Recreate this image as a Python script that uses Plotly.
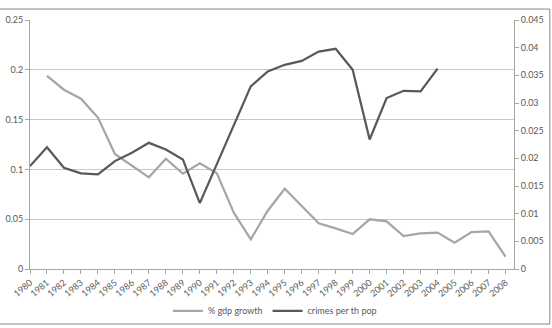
import plotly.graph_objects as go

years = list(range(1980, 2009))
gdp_years = list(range(1981, 2009))
gdp_growth = [0.194, 0.180, 0.171, 0.152, 0.1155, 0.1034, 0.092, 0.1107, 0.0957,
              0.1061, 0.0962, 0.0565, 0.0298, 0.0585, 0.0806, 0.0633, 0.0459,
              0.0408, 0.0351, 0.0499, 0.0479, 0.0331, 0.0358, 0.0365, 0.0264,
              0.0371, 0.0378, 0.0124]
crime_years = list(range(1980, 2005))
crimes = [0.0186, 0.0220, 0.0183, 0.0173, 0.0171, 0.0195, 0.0210, 0.0228, 0.0216,
          0.0198, 0.0119, 0.0190, 0.0261, 0.0330, 0.0357, 0.0369, 0.0376, 0.0393,
          0.0398, 0.0360, 0.0234, 0.0309, 0.0322, 0.0321, 0.0362]
tick_labels = [str(y) for y in years]

TXT = "#595959"
AX = "#A6A6A6"

fig = go.Figure()
fig.add_trace(go.Scatter(x=gdp_years, y=gdp_growth, mode="lines", name="% gdp growth",
                         line=dict(color="#A6A6A6", width=2.25), yaxis="y"))
fig.add_trace(go.Scatter(x=crime_years, y=crimes, mode="lines", name="crimes per th pop",
                         line=dict(color="#595959", width=2.25), yaxis="y2"))

fig.update_layout(
    width=552, height=328,
    margin=dict(l=30, r=38, t=20, b=59, autoexpand=False),
    paper_bgcolor="white", plot_bgcolor="white",
    font=dict(family="Lato", size=9, color=TXT),
    showlegend=True,
    legend=dict(orientation="h", x=0.506, xanchor="center",
                yref="container", y=0.052, yanchor="middle",
                font=dict(size=9, color=TXT), bgcolor="rgba(0,0,0,0)",
                itemwidth=30, tracegroupgap=0),
    xaxis=dict(range=[1980, 2008.5], tickmode="array", tickvals=years, ticktext=tick_labels,
               tickangle=-40, ticks="outside", ticklen=4, tickcolor=AX,
               showline=True, linecolor=AX, linewidth=1, showgrid=False, zeroline=False,
               tickfont=dict(size=9, color=TXT)),
    yaxis=dict(range=[0, 0.25], dtick=0.05, tick0=0, ticks="outside", ticklen=4, tickcolor=AX,
               showline=True, linecolor=AX, linewidth=1, showgrid=True,
               gridcolor="#C8C8C8", gridwidth=1, zeroline=False,
               tickfont=dict(size=9, color=TXT)),
    yaxis2=dict(range=[0, 0.045], dtick=0.005, tick0=0, overlaying="y", side="right",
                ticks="outside", ticklen=4, tickcolor=AX,
                showline=True, linecolor=AX, linewidth=1, showgrid=False, zeroline=False,
                tickfont=dict(size=9, color=TXT)),
    shapes=[dict(type="rect", xref="paper", yref="paper",
                 x0=-0.075, x1=1.074, y0=-0.221, y1=1.044,
                 line=dict(color="#868686", width=1), fillcolor="rgba(0,0,0,0)", layer="below")],
)

fig.write_html("out.html")
